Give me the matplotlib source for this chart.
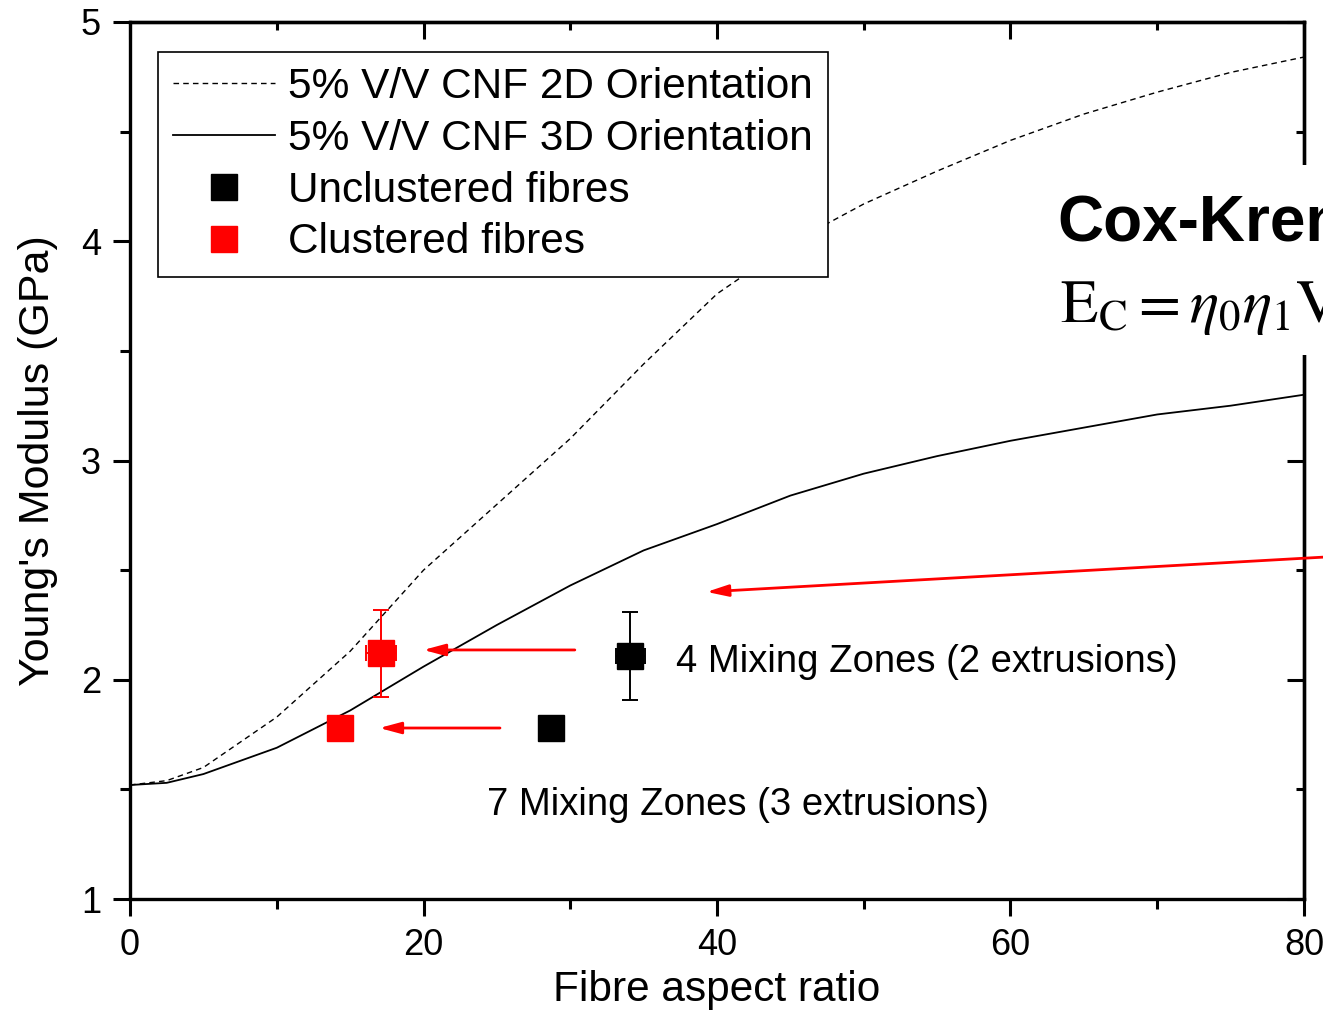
import numpy as np
import matplotlib.pyplot as plt
from matplotlib.patches import Rectangle
from matplotlib.lines import Line2D

plt.rcParams['font.family'] = ['Liberation Sans', 'DejaVu Sans']
plt.rcParams['mathtext.fontset'] = 'stix'

# model curves
ar = [0, 2.5, 5, 10, 15, 20, 25, 30, 35, 40, 45, 50, 55, 60, 65, 70, 75, 80]
e_2d = [1.52, 1.54, 1.60, 1.83, 2.13, 2.50, 2.80, 3.10, 3.44, 3.76, 3.99, 4.17,
        4.32, 4.46, 4.58, 4.68, 4.77, 4.84]
e_3d = [1.52, 1.53, 1.57, 1.69, 1.86, 2.06, 2.25, 2.43, 2.59, 2.71, 2.84, 2.94,
        3.02, 3.09, 3.15, 3.21, 3.25, 3.30]

# measured points
unclust_x = [34.1, 28.7]
unclust_y = [2.11, 1.78]
unclust_yerr = [0.2, 0.0]
unclust_xerr = [1.0, 0.0]
clust_x = [17.1, 14.3]
clust_y = [2.12, 1.78]
clust_yerr = [0.2, 0.0]
clust_xerr = [1.0, 0.0]

fig = plt.figure(figsize=(13.23, 10.13), dpi=100)
ax = fig.add_axes([0.0983, 0.1125, 0.8873, 0.8658])

ax.plot(ar, e_2d, color='black', lw=1.0, ls=(0, (4, 3)))
ax.plot(ar, e_3d, color='black', lw=1.3)

ax.errorbar(unclust_x, unclust_y, yerr=unclust_yerr, xerr=unclust_xerr, fmt='s',
            color='black', ms=19, capsize=6, elinewidth=1.4, capthick=1.4,
            zorder=5)
ax.errorbar(clust_x, clust_y, yerr=clust_yerr, xerr=clust_xerr, fmt='s',
            color='red', ms=19, capsize=6, elinewidth=1.4, capthick=1.4,
            zorder=5)

# red arrows
arr = dict(arrowstyle='-|>,head_length=1.3,head_width=0.35', color='red', lw=2)
ax.annotate('', xy=(19.8, 2.136), xytext=(30.5, 2.136), arrowprops=arr)
ax.annotate('', xy=(16.8, 1.78), xytext=(25.4, 1.78), arrowprops=arr)
ax.annotate('', xy=(39.1, 2.40), xytext=(81.5, 2.56), arrowprops=arr,
            annotation_clip=False)

ax.text(37.2, 2.08, '4 Mixing Zones (2 extrusions)', fontsize=27.5, va='center')
ax.text(24.3, 1.43, '7 Mixing Zones (3 extrusions)', fontsize=27.5, va='center')

ax.set_xlim(0, 80)
ax.set_ylim(1, 5)
ax.set_xticks([0, 20, 40, 60, 80])
ax.set_xticks([10, 30, 50, 70], minor=True)
ax.set_yticks([1, 2, 3, 4, 5])
ax.set_yticks([1.5, 2.5, 3.5, 4.5], minor=True)
ax.tick_params(which='both', direction='out', width=2.2, labelsize=26,
               top=False, right=False)
ax.tick_params(which='major', length=12, pad=9)
ax.tick_params(which='minor', length=7)
for s in ax.spines.values():
    s.set_linewidth(2.4)

# inward ticks on top and right
ax2 = ax.secondary_xaxis('top')
ax2.set_xticks([0, 20, 40, 60, 80])
ax2.set_xticks([10, 30, 50, 70], minor=True)
ax2.tick_params(which='both', direction='in', width=2.2, labeltop=False)
ax2.tick_params(which='major', length=12)
ax2.tick_params(which='minor', length=6)
ax2.spines['top'].set_linewidth(2.4)
ax3 = ax.secondary_yaxis('right')
ax3.set_yticks([1, 2, 3, 4, 5])
ax3.set_yticks([1.5, 2.5, 3.5, 4.5], minor=True)
ax3.tick_params(which='both', direction='in', width=2.2, labelright=False)
ax3.tick_params(which='major', length=12)
ax3.tick_params(which='minor', length=6)
ax3.spines['right'].set_linewidth(2.4)

ax.set_xlabel('Fibre aspect ratio', fontsize=30.5, labelpad=5)
ax.set_ylabel("Young's Modulus (GPa)", fontsize=31, labelpad=16)

handles = [
    Line2D([], [], color='black', lw=1.0, ls=(0, (4, 3))),
    Line2D([], [], color='black', lw=1.3),
    Line2D([], [], color='black', marker='s', ms=19, ls='none'),
    Line2D([], [], color='red', marker='s', ms=19, ls='none'),
]
labels = ['5% V/V CNF 2D Orientation', '5% V/V CNF 3D Orientation',
          'Unclustered fibres', 'Clustered fibres']
leg = ax.legend(handles, labels, loc='upper left',
                bbox_to_anchor=(0.0239, 0.9658), borderaxespad=0, fontsize=30.5,
                frameon=True, fancybox=False, edgecolor='black', framealpha=1,
                handlelength=2.4, labelspacing=0.28, borderpad=0.35,
                handletextpad=0.32)
leg.get_frame().set_linewidth(1.2)

# title block on the right, partly off the figure
fig.patches.append(Rectangle((1045 / 1323, 1 - 355 / 1013), 0.3, 190 / 1013,
                             transform=fig.transFigure, facecolor='white',
                             edgecolor='none', zorder=2))
fig.text(1057 / 1323, 1 - 240 / 1013, 'Cox-Krenchel', fontsize=46,
         fontweight='bold', zorder=3)
fig.text(1060 / 1323, 1 - 322 / 1013,
         r'$\mathrm{E_C} = \eta_0\eta_1\mathrm{V_f E_f} + (1-\mathrm{V_f})\mathrm{E_m}$',
         fontsize=44, zorder=3)

fig.savefig('out.png', dpi=100)
